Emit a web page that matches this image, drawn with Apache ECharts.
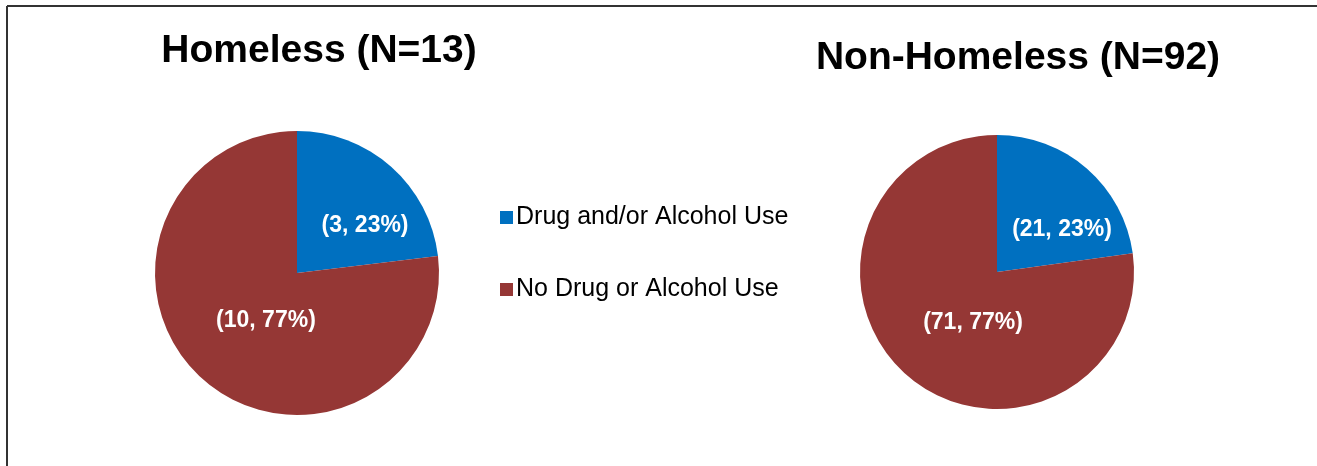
<!DOCTYPE html>
<html>
<head>
<meta charset="utf-8">
<script src="https://cdn.jsdelivr.net/npm/echarts@6/dist/echarts.min.js"></script>
<style>
  html, body { margin: 0; padding: 0; background: #ffffff; }
  #chart { width: 1317px; height: 466px; }
</style>
</head>
<body>
<div id="chart"></div>
<script>
// Substance use among homeless vs non-homeless respondents
const categories = ['Drug and/or Alcohol Use', 'No Drug or Alcohol Use'];
const homelessCounts = [3, 10];
const nonHomelessCounts = [21, 71];
const chartTitles = ['Homeless (N=13)', 'Non-Homeless (N=92)'];

const colors = ['#0070C0', '#953735'];
const FONT = '"Liberation Sans", Arial, sans-serif';

// label nudges per slice (pixels), applied on top of the inside position
const labelShift = [
  [[19, 8], [18, -8]],
  [[18, 12], [23, -3]]
];

function buildData(counts, shifts) {
  return categories.map((name, i) => ({
    name: name,
    value: counts[i],
    label: { offset: shifts[i] }
  }));
}

function pieSeries(counts, center, radius, shifts) {
  return {
    type: 'pie',
    center: center,
    radius: [0, radius],
    startAngle: 90,
    clockwise: true,
    percentPrecision: 0,
    avoidLabelOverlap: false,
    silent: true,
    itemStyle: { borderWidth: 0 },
    label: {
      show: true,
      position: 'inside',
      formatter: '({c}, {d}%)',
      color: '#ffffff',
      fontFamily: FONT,
      fontWeight: 'bold',
      fontSize: 23
    },
    labelLine: { show: false },
    emphasis: { disabled: true },
    data: buildData(counts, shifts)
  };
}

const chart = echarts.init(document.getElementById('chart'), null, { renderer: 'canvas' });

chart.setOption({
  animation: false,
  color: colors,
  legend: {
    orient: 'vertical',
    left: 495,
    top: 200,
    itemWidth: 13,
    itemHeight: 13,
    itemGap: 47,
    icon: 'rect',
    selectedMode: false,
    textStyle: { fontFamily: FONT, fontSize: 25, color: '#000000', padding: [0, 0, 0, -2] },
    data: categories
  },
  graphic: [
    // frame edges
    { type: 'line', shape: { x1: 7, y1: 6, x2: 1317, y2: 6 }, style: { stroke: '#333333', lineWidth: 2 } },
    { type: 'line', shape: { x1: 7, y1: 6, x2: 7, y2: 466 }, style: { stroke: '#333333', lineWidth: 2 } },
    {
      type: 'text', x: 319, y: 51,
      style: { text: chartTitles[0], fill: '#000000', font: 'bold 39px ' + FONT, textAlign: 'center', textVerticalAlign: 'middle' }
    },
    {
      type: 'text', x: 1018, y: 58,
      style: { text: chartTitles[1], fill: '#000000', font: 'bold 39px ' + FONT, textAlign: 'center', textVerticalAlign: 'middle' }
    }
  ],
  series: [
    pieSeries(homelessCounts, [297, 273], 142, labelShift[0]),
    pieSeries(nonHomelessCounts, [997, 272], 137, labelShift[1])
  ]
});
</script>
</body>
</html>
